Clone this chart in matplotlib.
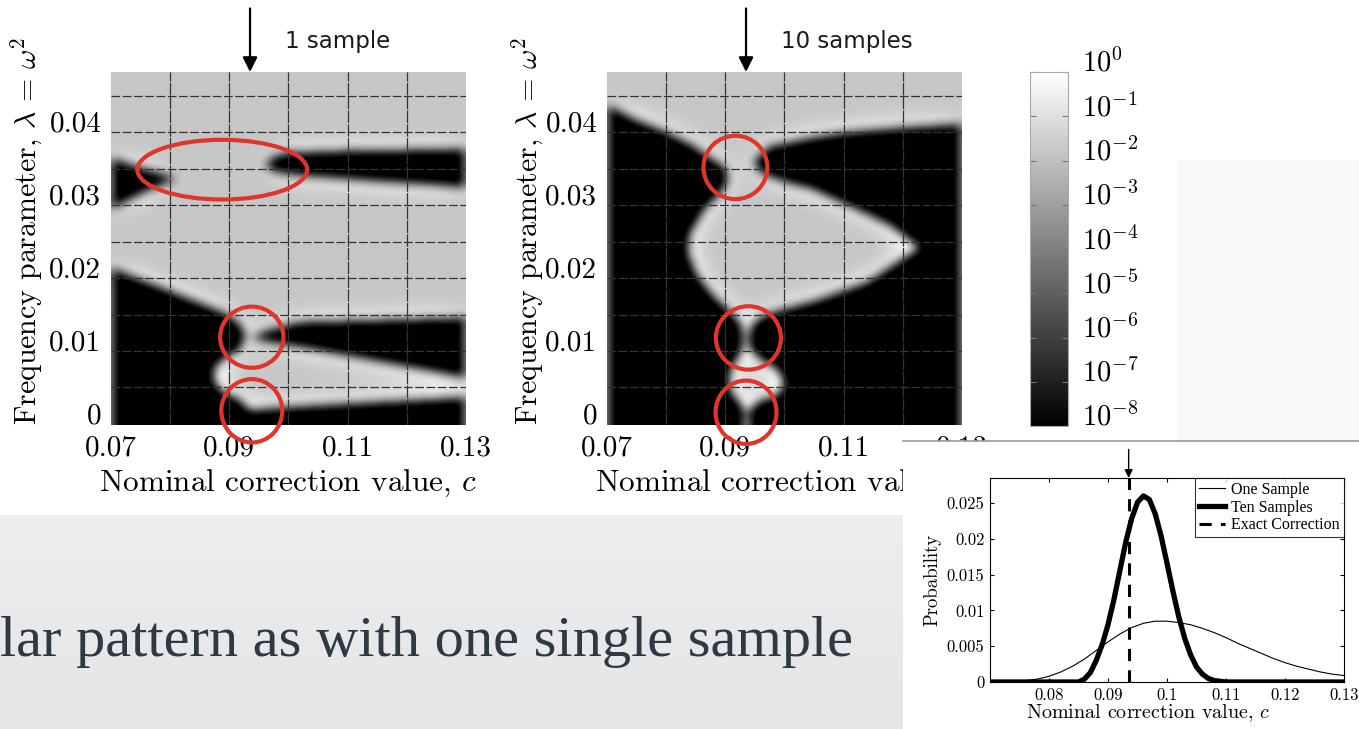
import numpy as np
import matplotlib
matplotlib.use("Agg")
import matplotlib.pyplot as plt
from matplotlib.path import Path
from matplotlib.colors import LogNorm, LinearSegmentedColormap
from matplotlib.patches import Ellipse, Rectangle
from matplotlib.ticker import NullLocator

plt.rcParams["font.family"] = "serif"
plt.rcParams["font.serif"] = ["cmr10"]
plt.rcParams["mathtext.fontset"] = "cm"
plt.rcParams["axes.formatter.use_mathtext"] = True

# ---- data ----
exact_c = 0.0935
c_range = (0.07, 0.13)
lam_range = (-0.00165, 0.0468)
c_ticks = [0.07, 0.09, 0.11, 0.13]
c_labels = ["0.07", "0.09", "0.11", "0.13"]
lam_ticks = [0, 0.01, 0.02, 0.03, 0.04]
lam_labels = ["0", "0.01", "0.02", "0.03", "0.04"]
cbar_ticks = [1e0, 1e-1, 1e-2, 1e-3, 1e-4, 1e-5, 1e-6, 1e-7, 1e-8]
cbar_labels = [r"$10^{0}$", r"$10^{-1}$", r"$10^{-2}$", r"$10^{-3}$", r"$10^{-4}$",
               r"$10^{-5}$", r"$10^{-6}$", r"$10^{-7}$", r"$10^{-8}$"]

# dark (~1e-8) regions of the "1 sample" map, (c, lambda) vertices
one_wedge = [(0.0700, 0.0350), (0.0750, 0.0337), (0.0810, 0.0322), (0.0760, 0.0305), (0.0700, 0.0280)]
one_upper_band = [(0.0960, 0.0340), (0.0975, 0.0352), (0.1000, 0.0358), (0.1100, 0.0361), (0.1300, 0.0363),
                  (0.1300, 0.0310), (0.1150, 0.0318), (0.1020, 0.0326), (0.0980, 0.0331)]
one_lower_left = [(0.0700, 0.0199), (0.0783, 0.0173), (0.0888, 0.0139), (0.0915, 0.0125), (0.0928, 0.0107),
                  (0.0918, 0.0086), (0.0893, 0.0075), (0.0876, 0.0062), (0.0874, 0.0045), (0.0888, 0.0029),
                  (0.0918, 0.0018), (0.0935, 0.0004), (0.1000, 0.0008), (0.1150, 0.0015), (0.1300, 0.0021),
                  (0.1300, -0.0020), (0.0700, -0.0020)]
one_mid_band = [(0.0935, 0.0103), (0.0969, 0.0114), (0.1019, 0.0125), (0.1300, 0.0131),
                (0.1300, 0.0048), (0.1019, 0.0090), (0.0969, 0.0097)]

# dark regions of the "10 samples" map
ten_left = [(0.0700, 0.0423), (0.0744, 0.0405), (0.0801, 0.0386), (0.0845, 0.0368), (0.0877, 0.0350),
            (0.0901, 0.0337), (0.0904, 0.0317), (0.0890, 0.0300), (0.0865, 0.0279), (0.0840, 0.0245),
            (0.0837, 0.0221), (0.0852, 0.0190), (0.0879, 0.0162), (0.0907, 0.0141), (0.0928, 0.0121),
            (0.0931, 0.0103), (0.0928, 0.0084), (0.0917, 0.0070), (0.0907, 0.0052), (0.0909, 0.0029),
            (0.0924, 0.0015), (0.0933, 0.0001), (0.0931, -0.0020), (0.0700, -0.0020)]
ten_right = [(0.0949, 0.0347), (0.0975, 0.0367), (0.1000, 0.0371), (0.1047, 0.0379), (0.1104, 0.0386),
             (0.1206, 0.0393), (0.1300, 0.0397), (0.1300, -0.0020), (0.0941, -0.0020), (0.0938, 0.0001),
             (0.0954, 0.0015), (0.0988, 0.0025), (0.1000, 0.0039), (0.0988, 0.0059), (0.0958, 0.0073),
             (0.0941, 0.0087), (0.0938, 0.0103), (0.0944, 0.0121), (0.0966, 0.0135), (0.1000, 0.0143),
             (0.1054, 0.0155), (0.1138, 0.0179), (0.1228, 0.0227), (0.1177, 0.0258), (0.1104, 0.0286),
             (0.1047, 0.0307), (0.1000, 0.0317), (0.0966, 0.0327), (0.0953, 0.0336)]

# red marks (centre c, centre lambda, width, height)
one_rings = [(0.0888, 0.0334, 0.0287, 0.0082), (0.0938, 0.0104, 0.0107, 0.0084), (0.0938, 0.0003, 0.0103, 0.0087)]
ten_rings = [(0.0917, 0.0337, 0.0108, 0.0087), (0.0939, 0.0103, 0.0110, 0.0087), (0.0935, 0.0001, 0.0103, 0.0087)]

# probability curves
one_x = [0.070, 0.072, 0.074, 0.076, 0.078, 0.080, 0.082, 0.084, 0.086, 0.088, 0.090, 0.092, 0.094, 0.096,
         0.098, 0.100, 0.102, 0.104, 0.106, 0.108, 0.110, 0.112, 0.114, 0.116, 0.118, 0.120, 0.122, 0.124,
         0.126, 0.128, 0.130]
one_y = [0.0000, 0.0000, 0.0001, 0.0002, 0.0004, 0.0008, 0.0014, 0.0022, 0.0032, 0.0044, 0.0056, 0.0067,
         0.0076, 0.0082, 0.0085, 0.0085, 0.0083, 0.0080, 0.0075, 0.0069, 0.0062, 0.0054, 0.0047, 0.0040,
         0.0033, 0.0027, 0.0022, 0.0018, 0.0014, 0.0011, 0.0009]
ten_x = [0.070, 0.085, 0.086, 0.087, 0.088, 0.089, 0.090, 0.091, 0.092, 0.093, 0.094, 0.095, 0.096, 0.097,
         0.098, 0.099, 0.100, 0.101, 0.102, 0.103, 0.104, 0.105, 0.106, 0.107, 0.108, 0.109, 0.110, 0.130]
ten_y = [0, 0, 0.0004, 0.0013, 0.0030, 0.0052, 0.0080, 0.0115, 0.0155, 0.0195, 0.0228, 0.0251, 0.0260,
         0.0255, 0.0235, 0.0204, 0.0166, 0.0127, 0.0091, 0.0061, 0.0038, 0.0021, 0.0011, 0.0005, 0.0002,
         0.0001, 0, 0]
prob_xticks = [0.08, 0.09, 0.10, 0.11, 0.12, 0.13]
prob_xlabels = ["0.08", "0.09", "0.1", "0.11", "0.12", "0.13"]
prob_yticks = [0, 0.005, 0.01, 0.015, 0.02, 0.025]
prob_ylabels = ["0", "0.005", "0.01", "0.015", "0.02", "0.025"]

slide_text = "lar pattern as with one single sample"


def box_blur(a, r):
    k = np.ones(2 * r + 1) / (2 * r + 1)
    a = np.pad(a, r, mode="edge")
    a = np.apply_along_axis(lambda v: np.convolve(v, k, mode="valid"), 0, a)
    a = np.apply_along_axis(lambda v: np.convolve(v, k, mode="valid"), 1, a)
    return a


def residual_map(polys, nx=355, ny=353):
    xs = np.linspace(*c_range, nx)
    ys = np.linspace(*lam_range, ny)
    X, Y = np.meshgrid(xs, ys)
    pts = np.column_stack([X.ravel(), Y.ravel()])
    m = np.zeros(X.size)
    for p in polys:
        m = np.maximum(m, Path(p).contains_points(pts))
    m = m.reshape(X.shape)
    edge = box_blur(box_blur(m, 5), 5)
    near = box_blur(box_blur(m, 18), 18)
    light = -1.8 + 1.7 * np.clip(near * 1.8, 0, 1) ** 1.5
    return 10 ** (light * (1 - edge) - 8.5 * edge)


W, H = 1359, 729
fig = plt.figure(figsize=(W / 100, H / 100), dpi=100)
fig.patch.set_facecolor("white")

# slide background pieces
bg = fig.add_axes([0, 0, 903 / W, 214 / H], zorder=-2)
bg.imshow(np.linspace(0, 1, 50)[:, None], aspect="auto",
          cmap=LinearSegmentedColormap.from_list("bg", ["#eeeeef", "#e4e5e7"]))
bg.axis("off")
fig.add_artist(Rectangle((1178 / W, 289 / H), 181 / W, 280 / H, transform=fig.transFigure,
                         color="#f7f8f8", zorder=-3))

norm = LogNorm(1e-8, 1)
panels = [
    (111, -0.19, "1 sample", [one_wedge, one_upper_band, one_lower_left, one_mid_band], one_rings),
    (607, -0.175, "10 samples", [ten_left, ten_right], ten_rings),
]
for left, ylab_x, title, polys, rings in panels:
    ax = fig.add_axes([left / W, 304 / H, 355 / W, 353 / H])
    ax.imshow(residual_map(polys), extent=[*c_range, *lam_range], origin="lower", aspect="auto",
              cmap="gray", norm=norm, interpolation="bilinear")
    ax.set_xlim(*c_range)
    ax.set_ylim(*lam_range)
    for y in np.arange(0.0035, 0.046, 0.005):
        ax.axhline(y, color="#333333", lw=0.9, dashes=(7, 2))
    for x in [0.08, 0.09, 0.10, 0.11, 0.12]:
        ax.axvline(x, color="#333333", lw=0.9, dashes=(10, 1))
    for cx, cy, w, h in rings:
        ax.add_patch(Ellipse((cx, cy), w, h, fill=False, ec="#e0352b", lw=3, clip_on=False, zorder=5))
    for s in ax.spines.values():
        s.set_visible(False)
    ax.set_xticks(c_ticks, c_labels)
    ax.set_yticks(lam_ticks, lam_labels)
    ax.tick_params(length=0, labelsize=21, pad=7)
    ax.set_xlabel(r"Nominal correction value, $c$", fontsize=22.5, labelpad=5)
    ax.set_ylabel(r"Frequency parameter, $\lambda\,=\,\omega^2$", fontsize=21.5)
    ax.yaxis.set_label_coords(ylab_x, 0.55)
    ax.annotate("", xy=(exact_c, 1.0), xycoords=("data", "axes fraction"),
                xytext=(exact_c, 1.18), textcoords=("data", "axes fraction"),
                arrowprops=dict(arrowstyle="-|>", color="k", lw=1.6, mutation_scale=22,
                                shrinkA=0, shrinkB=0), annotation_clip=False)
    ax.text(0.49, 1.085, title, transform=ax.transAxes, fontsize=16.5, family="DejaVu Sans",
            va="center", ha="left", color="#1a1a1a")

# colour bar
cax = fig.add_axes([1030 / W, 303 / H, 38 / W, 354 / H])
sm = plt.cm.ScalarMappable(norm=norm, cmap="gray")
cb = fig.colorbar(sm, cax=cax)
cb.set_ticks(cbar_ticks, labels=cbar_labels)
cax.yaxis.set_minor_locator(NullLocator())
cax.tick_params(direction="in", length=4, width=0.8, color="#777777", left=True, right=True,
                labelsize=20.5, pad=10)
for t in cax.get_yticklabels():
    t.set_verticalalignment("baseline")
cb.outline.set_edgecolor("#aaaaaa")
cb.outline.set_linewidth(0.8)

# white panel holding the probability plot
pa = fig.add_axes([903 / W, 0, 456 / W, 288 / H], zorder=5)
pa.set_facecolor("white")
pa.set_xticks([])
pa.set_yticks([])
for k, s in pa.spines.items():
    s.set_visible(k == "top")
pa.spines["top"].set_color("#999999")
pa.spines["top"].set_linewidth(1.2)

ax3 = fig.add_axes([990 / W, 47 / H, 354 / W, 204 / H], zorder=6)
ax3.plot(one_x, one_y, color="k", lw=0.8, label="One Sample")
ax3.plot(ten_x, ten_y, color="k", lw=3.8, label="Ten Samples")
ax3.axvline(exact_c, color="k", lw=2.2, dashes=(4, 3), label="Exact Correction")
ax3.set_xlim(*c_range)
ax3.set_ylim(0, 0.0285)
ax3.set_xticks(prob_xticks, prob_xlabels)
ax3.set_yticks(prob_yticks, prob_ylabels)
ax3.tick_params(direction="in", top=True, right=True, length=3, labelsize=12, pad=4)
ax3.set_xlabel(r"Nominal correction value, $c$", fontsize=14.5, labelpad=0)
ax3.xaxis.set_label_coords(0.446, -0.1)
ax3.set_ylabel("Probability", fontsize=13.5, labelpad=4)
for s in ax3.spines.values():
    s.set_linewidth(0.8)
leg = ax3.legend(loc="upper right", prop={"family": "Liberation Serif", "size": 11.5},
                 frameon=True, fancybox=False, edgecolor="k", borderaxespad=0, handlelength=1.6,
                 handletextpad=0.4, labelspacing=0.1, borderpad=0.25)
leg.get_frame().set_linewidth(0.8)
ax3.annotate("", xy=(exact_c, 1.0), xycoords=("data", "axes fraction"),
             xytext=(exact_c, 1.14), textcoords=("data", "axes fraction"),
             arrowprops=dict(arrowstyle="-|>", color="k", lw=1.0, mutation_scale=12,
                             shrinkA=0, shrinkB=0), annotation_clip=False)

fig.text(0.0, 73 / H, slide_text, family="Liberation Serif", fontsize=42, color="#2e3a43",
         va="baseline", ha="left")

fig.savefig("out.png", dpi=100)
